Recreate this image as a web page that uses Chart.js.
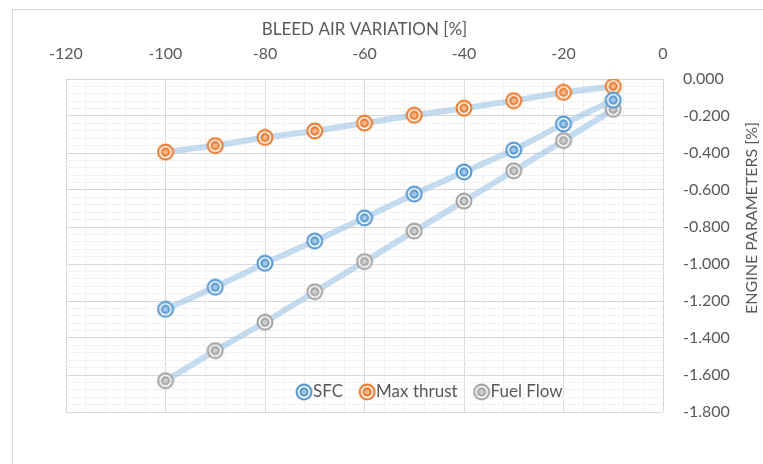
<!DOCTYPE html>
<html>
<head>
<meta charset="utf-8">
<script src="https://cdn.jsdelivr.net/npm/chart.js@4.4.1/dist/chart.umd.min.js"></script>
<style>
  html, body { margin: 0; padding: 0; background: #fff; overflow: hidden; }
  #wrap { position: relative; width: 763px; height: 464px; }
  #frame { position: absolute; left: 12px; top: 9px; width: 800px; height: 520px; border: 1px solid #d9d9d9; box-sizing: border-box; }
  #c { position: absolute; left: 0; top: 0; }
</style>
</head>
<body>
<div id="wrap">
  <div id="frame"></div>
  <canvas id="c" width="763" height="464"></canvas>
</div>
<script>
// ---------- dados
const bleedAir = [-100, -90, -80, -70, -60, -50, -40, -30, -20, -10];
const sfc = [-1.245, -1.126, -0.996, -0.876, -0.751, -0.622, -0.503, -0.384, -0.243, -0.114];
const maxThrust = [-0.395, -0.360, -0.316, -0.281, -0.238, -0.196, -0.158, -0.117, -0.072, -0.040];
const fuelFlow = [-1.631, -1.468, -1.315, -1.150, -0.987, -0.822, -0.660, -0.496, -0.333, -0.164];

const seriesNames = ['SFC', 'Max thrust', 'Fuel Flow'];
const seriesColors = ['#5B9BD5', '#ED7D31', '#A5A5A5'];

const xTitle = 'BLEED AIR VARIATION [%]';
const yTitle = 'ENGINE PARAMETERS [%]';

const FONT = 'Lato, "Open Sans", sans-serif';
const TXT = '#595959';
const LINK = 'rgba(157,195,230,0.6)';

// marcador "alvo" (anel duplo)
function targetMarker(color, size) {
  const c = document.createElement('canvas');
  c.width = size; c.height = size;
  const g = c.getContext('2d');
  const m = size / 2;
  g.lineWidth = 2.2;
  g.strokeStyle = color;
  g.fillStyle = '#fff';
  g.beginPath(); g.arc(m, m, size / 2 - 1.6, 0, Math.PI * 2); g.fill(); g.stroke();
  g.globalAlpha = 0.55; g.fillStyle = color;
  g.beginPath(); g.arc(m, m, 3.6, 0, Math.PI * 2); g.fill();
  g.globalAlpha = 1;
  g.beginPath(); g.arc(m, m, 3.6, 0, Math.PI * 2); g.stroke();
  return c;
}
const markers = seriesColors.map(c => targetMarker(c, 18));

const pts = (ys) => bleedAir.map((x, i) => ({ x, y: ys[i] }));

const isMajorY = (v) => Math.abs(Math.round(v / 0.2) * 0.2 - v) < 1e-6;
const isMajorX = (v) => Math.abs(v % 20) < 1e-6;

// legenda + título do eixo y desenhados à mão
const extras = {
  id: 'extras',
  afterDraw(chart) {
    const g = chart.ctx;
    g.save();
    g.fillStyle = TXT;
    g.font = '16px ' + FONT;
    g.textBaseline = 'middle';
    // título vertical
    g.save();
    g.translate(752, 218);
    g.rotate(-Math.PI / 2);
    g.textAlign = 'center';
    g.fillText(yTitle, 0, 0);
    g.restore();
    // legenda
    const legY = 392;
    let x = 295;
    g.font = '17px ' + FONT;
    g.textAlign = 'left';
    seriesNames.forEach((name, i) => {
      g.drawImage(markers[i], x, legY - 9);
      x += 18;
      g.fillText(name, x, legY);
      x += g.measureText(name).width + 15;
    });
    g.restore();
  }
};

const mkDs = (label, ys, i) => ({
  label,
  data: pts(ys),
  borderColor: LINK,
  borderWidth: 6,
  pointStyle: markers[i],
  pointRadius: 9,
  pointHoverRadius: 9,
  fill: false,
  tension: 0
});

new Chart(document.getElementById('c'), {
  type: 'line',
  data: {
    datasets: [
      mkDs(seriesNames[0], sfc, 0),
      mkDs(seriesNames[1], maxThrust, 1),
      mkDs(seriesNames[2], fuelFlow, 2)
    ]
  },
  options: {
    responsive: false,
    animation: false,
    layout: { padding: { left: 66, bottom: 52, top: 0, right: 0 } },
    plugins: { legend: { display: false }, tooltip: { enabled: false } },
    scales: {
      x: {
        type: 'linear',
        position: 'top',
        min: -120, max: 0,
        afterFit: (s) => { s.height = 79; },
        border: { display: false },
        grid: {
          drawTicks: false,
          color: (ctx) => isMajorX(ctx.tick.value) ? '#d9d9d9' : '#f2f2f2',
          lineWidth: 1
        },
        ticks: {
          stepSize: 4,
          autoSkip: false,
          maxRotation: 0,
          padding: 16,
          color: TXT,
          font: { family: FONT, size: 16 },
          callback: (v) => isMajorX(v) ? String(Math.round(v)) : ''
        },
        title: {
          display: true,
          text: xTitle,
          color: TXT,
          font: { family: FONT, size: 17 },
          padding: { top: 19, bottom: 0 }
        }
      },
      y: {
        position: 'right',
        min: -1.8, max: 0,
        afterFit: (s) => { s.width = 100; },
        border: { display: false },
        grid: {
          drawTicks: false,
          color: (ctx) => isMajorY(ctx.tick.value) ? '#d9d9d9' : '#f2f2f2',
          lineWidth: 1
        },
        ticks: {
          stepSize: 0.04,
          autoSkip: false,
          padding: 20,
          color: TXT,
          font: { family: FONT, size: 16 },
          callback: (v) => isMajorY(v) ? v.toFixed(3) : ''
        }
      }
    }
  },
  plugins: [extras]
});
</script>
</body>
</html>
